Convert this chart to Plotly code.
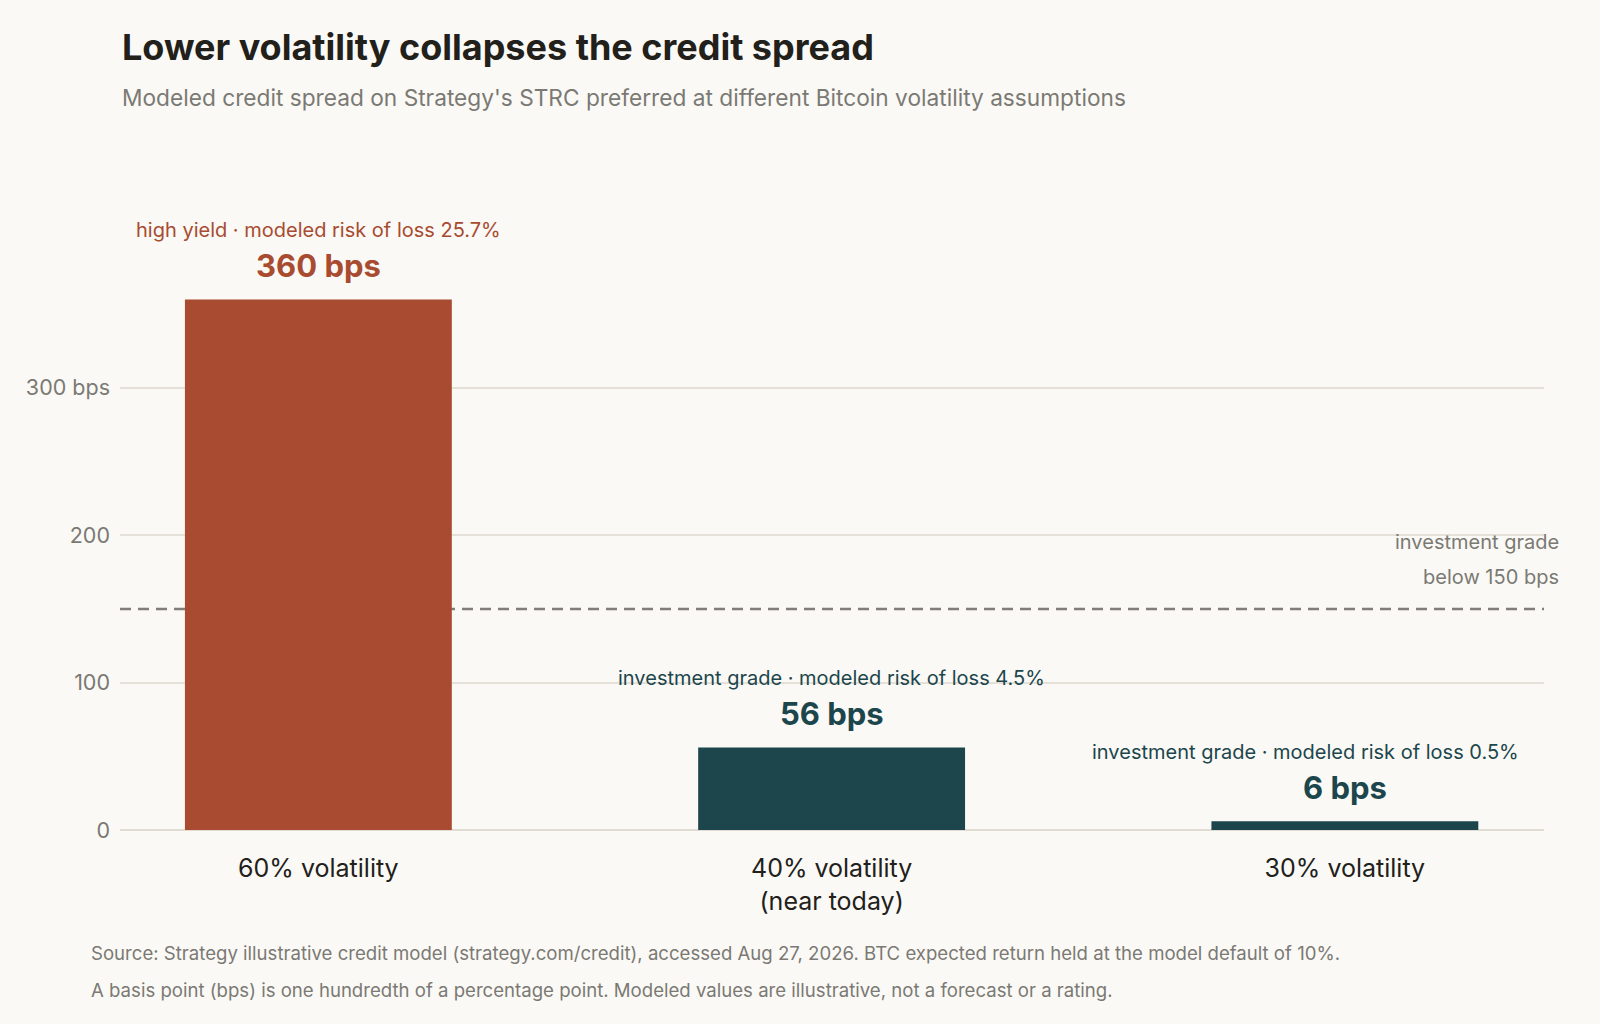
import plotly.graph_objects as go

# data
categories = ["60% volatility", "40% volatility<br>(near today)", "30% volatility"]
spread_bps = [360, 56, 6]
grades = ["high yield", "investment grade", "investment grade"]
risk_of_loss = ["25.7%", "4.5%", "0.5%"]
ig_threshold = 150
tick_vals = [0, 100, 200, 300]
tick_text = ["0", "100", "200", "300 bps"]

FONT = "Inter"
BG = "#FAF9F5"
RUST = "#A84B30"
TEAL = "#1C464C"
GREY = "#7B7974"
INK = "#22201A"

bar_colors = [RUST if v > ig_threshold else TEAL for v in spread_bps]

fig = go.Figure()
fig.add_trace(
    go.Bar(
        x=categories,
        y=spread_bps,
        marker=dict(color=bar_colors, line=dict(width=0)),
        width=0.52,
        hoverinfo="skip",
    )
)

# investment grade threshold
fig.add_shape(
    type="line", xref="paper", yref="y",
    x0=0, x1=1, y0=ig_threshold, y1=ig_threshold,
    line=dict(color="#817E79", width=2.5, dash="11px,7px"),
    layer="below",
)
fig.add_annotation(
    xref="paper", yref="y", x=1.012, y=ig_threshold,
    text="investment grade",
    showarrow=False, xanchor="right", yanchor="middle",
    yshift=67, font=dict(family=FONT, size=20, color=GREY),
)
fig.add_annotation(
    xref="paper", yref="y", x=1.012, y=ig_threshold,
    text="below 150 bps",
    showarrow=False, xanchor="right", yanchor="middle",
    yshift=32, font=dict(family=FONT, size=20, color=GREY),
)

# last label is nudged left so it stays inside the plot
label_shift = [0, 0, -39]
for cat, val, grade, risk, col, dx in zip(categories, spread_bps, grades, risk_of_loss, bar_colors, label_shift):
    fig.add_annotation(
        x=cat, y=val, text=f"<b>{val} bps</b>", showarrow=False,
        yanchor="bottom", yshift=13, font=dict(family=FONT, size=31, color=col),
    )
    fig.add_annotation(
        x=cat, y=val, text=f"{grade} · modeled risk of loss {risk}", showarrow=False,
        yanchor="bottom", yshift=55, xshift=dx, font=dict(family=FONT, size=20, color=col),
    )

# title, subtitle, footnotes
fig.add_annotation(
    xref="paper", yref="paper", x=0, y=1.0, yshift=108,
    text="<b>Lower volatility collapses the credit spread</b>",
    showarrow=False, xanchor="left", yanchor="middle",
    font=dict(family=FONT, size=36, color=INK),
)
fig.add_annotation(
    xref="paper", yref="paper", x=0, y=1.0, yshift=58,
    text="Modeled credit spread on Strategy's STRC preferred at different Bitcoin volatility assumptions",
    showarrow=False, xanchor="left", yanchor="middle",
    font=dict(family=FONT, size=22.7, color=GREY),
)
fig.add_annotation(
    xref="paper", yref="paper", x=-0.0219, y=0, yshift=-123,
    text="Source: Strategy illustrative credit model (strategy.com/credit), accessed Aug 27, 2026. "
         "BTC expected return held at the model default of 10%.",
    showarrow=False, xanchor="left", yanchor="middle",
    font=dict(family=FONT, size=18.6, color=GREY),
)
fig.add_annotation(
    xref="paper", yref="paper", x=-0.0219, y=0, yshift=-160,
    text="A basis point (bps) is one hundredth of a percentage point. "
         "Modeled values are illustrative, not a forecast or a rating.",
    showarrow=False, xanchor="left", yanchor="middle",
    font=dict(family=FONT, size=18.6, color=GREY),
)

fig.update_layout(
    width=1600, height=1024,
    margin=dict(l=120, r=56, t=155, b=194),
    paper_bgcolor=BG, plot_bgcolor=BG,
    showlegend=False,
    font=dict(family=FONT, color=INK),
)
fig.update_xaxes(
    range=[-0.3865, 2.388],
    showgrid=False, zeroline=False, showline=False, ticks="",
    tickfont=dict(family=FONT, size=25, color=INK),
    ticklabelstandoff=21,
)
fig.update_yaxes(
    range=[0, 458],
    tickvals=tick_vals, ticktext=tick_text,
    showgrid=True, gridcolor="#E5E1D8", gridwidth=1.5,
    zeroline=True, zerolinecolor="#E0DCD2", zerolinewidth=1.5,
    showline=False, ticks="",
    tickfont=dict(family=FONT, size=21.5, color=GREY),
    ticklabelstandoff=9,
)

fig.write_html(
    "out.html",
    config={"displayModeBar": False},
    post_script="document.body.style.margin='0';document.body.style.overflow='hidden';",
)
